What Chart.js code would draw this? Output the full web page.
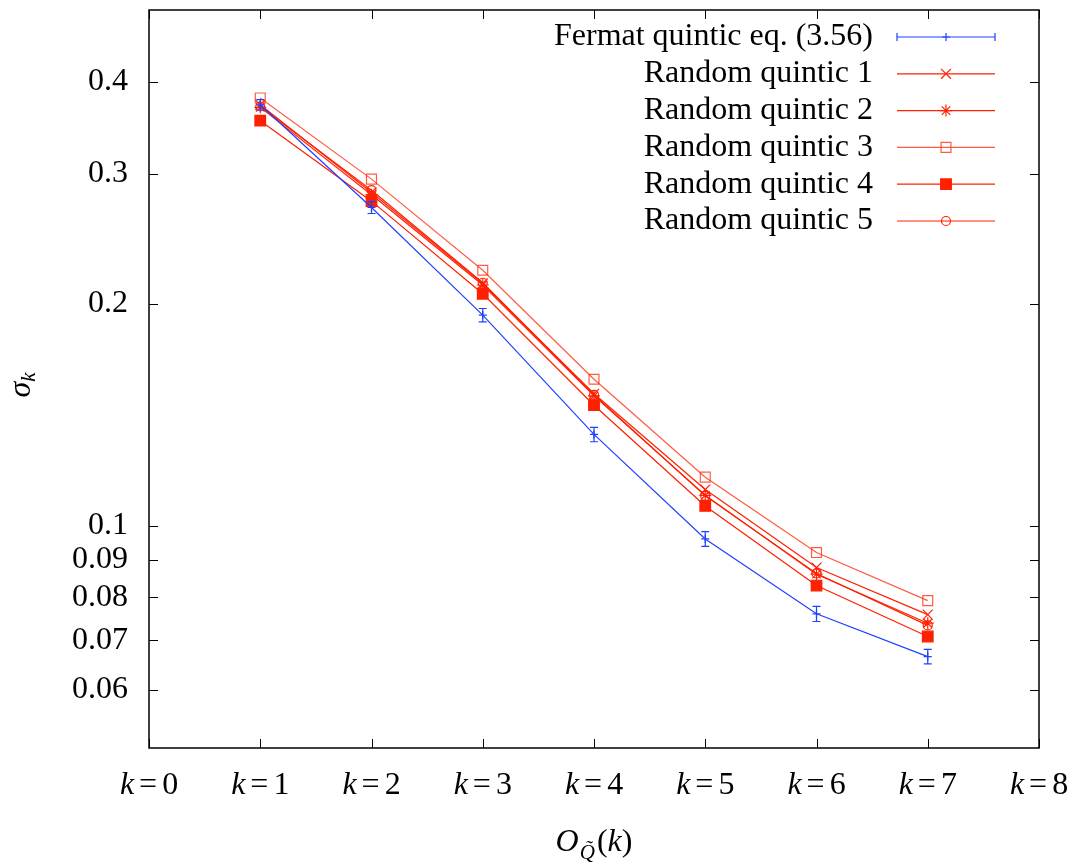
<!DOCTYPE html>
<html>
<head>
<meta charset="utf-8">
<script src="https://cdn.jsdelivr.net/npm/chart.js@4.4.0/dist/chart.umd.min.js"></script>
<style>
    html, body { margin: 0; padding: 0; background: #ffffff; }
    #area { width: 1078px; height: 863px; }
</style>
</head>
<body>
<div id="area"><canvas id="grafico"></canvas></div>
<script>
// ===== DADOS =====
const kValores = [1, 2, 3, 4, 5, 6, 7];
const fermat = [0.372, 0.270, 0.193, 0.133, 0.0960, 0.0760, 0.0665];
const fermatErro = [0.006, 0.005, 0.004, 0.003, 0.0022, 0.0018, 0.0015];
const quintic1 = [0.372, 0.283, 0.213, 0.151, 0.112, 0.0878, 0.0758];
const quintic2 = [0.369, 0.281, 0.212, 0.150, 0.110, 0.0860, 0.0738];
const quintic3 = [0.380, 0.295, 0.222, 0.158, 0.1164, 0.0920, 0.0792];
const quintic4 = [0.354, 0.2754, 0.2063, 0.1457, 0.1064, 0.0830, 0.0708];
const quintic5 = [0.370, 0.285, 0.2135, 0.1505, 0.1098, 0.0862, 0.0733];
const rotulosSerie = ['Fermat quintic eq. (3.56)', 'Random quintic 1', 'Random quintic 2',
    'Random quintic 3', 'Random quintic 4', 'Random quintic 5'];
const ticksY = [0.06, 0.07, 0.08, 0.09, 0.1, 0.2, 0.3, 0.4];
const ticksX = [0, 1, 2, 3, 4, 5, 6, 7, 8];

const AZUL = 'rgb(32, 64, 255)';
const VERMELHO = 'rgb(255, 32, 0)';
const FONTE = '"Liberation Serif", "DejaVu Serif", serif';
const TAM = 32;

function pontos(valores) {
    return kValores.map((k, i) => ({ x: k, y: valores[i] }));
}

function serieVermelha(label, valores, estilo, raio, preenchido, cor) {
    return {
        label: label,
        data: pontos(valores),
        borderColor: cor || VERMELHO,
        borderWidth: 1.2,
        pointStyle: estilo,
        pointRadius: raio,
        pointBorderColor: cor || VERMELHO,
        pointBackgroundColor: preenchido ? (cor || VERMELHO) : 'rgba(0,0,0,0)',
        pointBorderWidth: 1.2,
        tension: 0,
        fill: false
    };
}

const datasets = [
    {
        label: rotulosSerie[0],
        data: pontos(fermat),
        borderColor: AZUL,
        borderWidth: 1.2,
        pointStyle: 'cross',
        pointRadius: 4,
        pointBorderColor: AZUL,
        pointBackgroundColor: AZUL,
        pointBorderWidth: 1.2,
        tension: 0,
        fill: false
    },
    serieVermelha(rotulosSerie[1], quintic1, 'crossRot', 7, false),
    serieVermelha(rotulosSerie[2], quintic2, 'star', 6, false),
    serieVermelha(rotulosSerie[3], quintic3, 'rect', 7, false, 'rgba(255, 50, 20, 0.8)'),
    serieVermelha(rotulosSerie[4], quintic4, 'rect', 7.5, true),
    serieVermelha(rotulosSerie[5], quintic5, 'circle', 4.5, false)
];

// texto com partes em italico, lado a lado
function textoMisto(ctx, partes, x, y) {
    partes.forEach(p => {
        ctx.font = (p.it ? 'italic ' : '') + (p.tam || TAM) + 'px ' + FONTE;
        ctx.fillText(p.t, x, y + (p.dy || 0));
        x += ctx.measureText(p.t).width + (p.gap || 0);
    });
}

function larguraMista(ctx, partes) {
    let w = 0;
    partes.forEach(p => {
        ctx.font = (p.it ? 'italic ' : '') + (p.tam || TAM) + 'px ' + FONTE;
        w += ctx.measureText(p.t).width + (p.gap || 0);
    });
    return w;
}

// ===== PLUGIN: moldura, marcas, barras de erro, legenda, titulos =====
const pluginDesenho = {
    id: 'desenho',
    afterDatasetsDraw(chart) {
        const ctx = chart.ctx;
        const area = chart.chartArea;
        const sx = chart.scales.x;
        const sy = chart.scales.y;

        // barras de erro
        ctx.save();
        ctx.strokeStyle = AZUL;
        ctx.lineWidth = 1.2;
        fermat.forEach((v, i) => {
            const px = sx.getPixelForValue(kValores[i]);
            const y1 = sy.getPixelForValue(v - fermatErro[i]);
            const y2 = sy.getPixelForValue(v + fermatErro[i]);
            ctx.beginPath();
            ctx.moveTo(px, y1); ctx.lineTo(px, y2);
            ctx.moveTo(px - 4, y1); ctx.lineTo(px + 4, y1);
            ctx.moveTo(px - 4, y2); ctx.lineTo(px + 4, y2);
            ctx.stroke();
        });
        ctx.restore();

        // moldura e marcas internas
        ctx.save();
        ctx.strokeStyle = '#000';
        ctx.lineWidth = 1.5;
        ctx.strokeRect(area.left, area.top, area.right - area.left, area.bottom - area.top);
        ctx.beginPath();
        ticksY.forEach(v => {
            const py = Math.round(sy.getPixelForValue(v)) + 0.5;
            ctx.moveTo(area.left, py); ctx.lineTo(area.left + 9, py);
            ctx.moveTo(area.right, py); ctx.lineTo(area.right - 9, py);
        });
        ticksX.forEach(v => {
            const px = Math.round(sx.getPixelForValue(v)) + 0.5;
            ctx.moveTo(px, area.bottom); ctx.lineTo(px, area.bottom - 9);
            ctx.moveTo(px, area.top); ctx.lineTo(px, area.top + 9);
        });
        ctx.lineWidth = 1;
        ctx.stroke();
        ctx.restore();

        // rotulos do eixo x: k = n
        ctx.save();
        ctx.fillStyle = '#000';
        ctx.textBaseline = 'middle';
        ctx.textAlign = 'left';
        ticksX.forEach(v => {
            const px = sx.getPixelForValue(v);
            const partes = [{ t: 'k', it: true, gap: 5 }, { t: '=', gap: 5 }, { t: String(v) }];
            const w = larguraMista(ctx, partes);
            textoMisto(ctx, partes, px - w / 2, area.bottom + 38);
        });

        // titulo do eixo x
        const cx = (area.left + area.right) / 2;
        const tituloX = [
            { t: 'O', it: true, gap: 1 },
            { t: 'Q\u0303', it: true, tam: 21, dy: 10, gap: 2 },
            { t: '(' },
            { t: 'k', it: true },
            { t: ')' }
        ];
        const wt = larguraMista(ctx, tituloX);
        textoMisto(ctx, tituloX, cx - wt / 2, 843);

        // titulo do eixo y
        ctx.translate(22, 385);
        ctx.rotate(-Math.PI / 2);
        const tituloY = [{ t: '\u03c3', it: true }, { t: 'k', it: true, tam: 21, dy: 7 }];
        const wy = larguraMista(ctx, tituloY);
        textoMisto(ctx, tituloY, -wy / 2, 0);
        ctx.restore();

        // legenda
        ctx.save();
        ctx.font = TAM + 'px ' + FONTE;
        ctx.textAlign = 'right';
        ctx.textBaseline = 'middle';
        chart.data.datasets.forEach((ds, i) => {
            const ly = 37 + i * 36.8;
            ctx.fillStyle = '#000';
            ctx.fillText(ds.label, 873, ly);
            ctx.strokeStyle = ds.borderColor;
            ctx.lineWidth = 1.2;
            ctx.beginPath();
            ctx.moveTo(897, ly); ctx.lineTo(995, ly);
            if (i === 0) {
                ctx.moveTo(897, ly - 4); ctx.lineTo(897, ly + 4);
                ctx.moveTo(995, ly - 4); ctx.lineTo(995, ly + 4);
            }
            ctx.stroke();
            ctx.fillStyle = ds.pointBackgroundColor;
            ctx.strokeStyle = ds.pointBorderColor;
            ctx.lineWidth = ds.pointBorderWidth;
            Chart.helpers.drawPoint(ctx, {
                pointStyle: ds.pointStyle,
                radius: ds.pointRadius,
                rotation: 0,
                borderWidth: ds.pointBorderWidth
            }, 946, ly);
        });
        ctx.restore();
    }
};

// ===== GRAFICO =====
const ctx = document.getElementById('grafico').getContext('2d');
new Chart(ctx, {
    type: 'line',
    data: { datasets: datasets },
    options: {
        responsive: true,
        maintainAspectRatio: false,
        animation: false,
        layout: { padding: { top: 10, right: 39, left: 0, bottom: 0 } },
        plugins: {
            legend: { display: false },
            tooltip: { enabled: false }
        },
        scales: {
            x: {
                type: 'linear',
                min: 0,
                max: 8,
                grid: { display: false },
                border: { display: false },
                ticks: { display: false },
                afterFit: function(scale) {
                    scale.height = 115;
                    scale.paddingLeft = 0;
                    scale.paddingRight = 0;
                }
            },
            y: {
                type: 'logarithmic',
                min: 0.05,
                max: 0.5,
                grid: { display: false },
                border: { display: false },
                afterBuildTicks: function(scale) {
                    scale.ticks = ticksY.map(v => ({ value: v }));
                },
                ticks: {
                    color: '#000',
                    padding: 13,
                    font: { family: FONTE, size: TAM },
                    callback: function(valor) { return String(valor); }
                },
                afterFit: function(scale) {
                    scale.width = 149;
                    scale.paddingTop = 0;
                    scale.paddingBottom = 0;
                }
            }
        }
    },
    plugins: [pluginDesenho]
});
</script>
</body>
</html>
